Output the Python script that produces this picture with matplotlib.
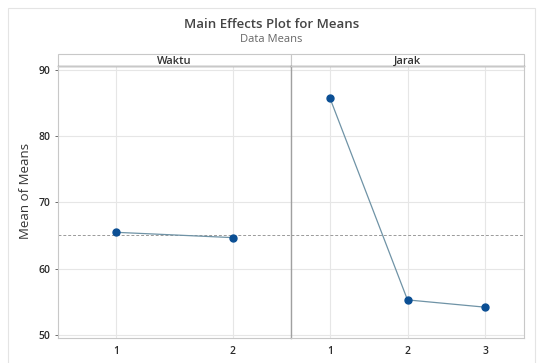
import matplotlib
matplotlib.use("Agg")
import matplotlib.pyplot as plt
from matplotlib.patches import Rectangle

plt.rcParams['font.family'] = ['Open Sans', 'DejaVu Sans']

# main effect means per factor level
factors = ["Waktu", "Jarak"]
waktu_levels = ["1", "2"]
waktu_means = [65.5, 64.7]
jarak_levels = ["1", "2", "3"]
jarak_means = [85.8, 55.3, 54.2]
grand_mean = 65.1
y_ticks = [50, 60, 70, 80, 90]

LINE_C = "#6f93a6"
MARK_C = "#0b4f94"
GRID_C = "#e6e6e6"
FRAME_C = "#c8c8c8"

fig = plt.figure(figsize=(5.43, 3.63), dpi=100)
W, H = 543, 363

# light outer frame
fig.patches.append(Rectangle((8 / W, -0.01), 527 / W, 1 - 8 / H + 0.01,
                             transform=fig.transFigure, fill=False,
                             edgecolor="#e4e4e4", linewidth=0.8))

left, right = 58 / W, 524 / W
bottom, top = 1 - 338 / H, 1 - 66 / H
pw = (right - left) / 2
axes = [fig.add_axes([left, bottom, pw, top - bottom]),
        fig.add_axes([left + pw, bottom, pw, top - bottom])]

panels = [(waktu_levels, waktu_means), (jarak_levels, jarak_means)]
strip_h = 12 / (338 - 66)

for i, (ax, name, (levels, means)) in enumerate(zip(axes, factors, panels)):
    xs = list(range(1, len(levels) + 1))
    ax.set_xlim(0.5, len(levels) + 0.5)
    ax.set_ylim(49.55, 90.6)
    ax.set_xticks(xs)
    ax.set_xticklabels(levels)
    ax.set_yticks(y_ticks)
    ax.grid(True, color=GRID_C, linewidth=0.8)
    ax.set_axisbelow(True)
    ax.axhline(grand_mean, color="#9a9a9a", linestyle=(0, (3, 2)), linewidth=0.7)
    ax.plot(xs, means, color=LINE_C, linewidth=0.9, zorder=3)
    ax.plot(xs, means, "o", color=MARK_C, markersize=5, zorder=4)
    for s in ax.spines.values():
        s.set_color(FRAME_C)
        s.set_linewidth(0.8)
    ax.tick_params(axis="both", labelsize=7.5, colors="#555555",
                   labelcolor="#2a2a2a", length=2, width=0.6)
    for lab in ax.get_xticklabels() + ax.get_yticklabels():
        lab.set_fontweight("semibold")
    ax.tick_params(axis="x", length=0, pad=6)
    # factor strip on top
    ax.add_patch(Rectangle((0, 1), 1, strip_h, transform=ax.transAxes,
                           facecolor="white", edgecolor=FRAME_C,
                           linewidth=0.8, clip_on=False))
    ax.plot([0, 1], [1, 1], transform=ax.transAxes, color="#8a8a8a",
            linewidth=1.0, clip_on=False)
    ax.text(0.5, 1 + strip_h * 0.4, name, transform=ax.transAxes,
            ha="center", va="center", fontsize=8, fontweight="semibold",
            color="#333333")
    if i == 1:
        ax.tick_params(axis="y", left=False, labelleft=False)
        ax.spines["left"].set_color("#a0a0a0")
        ax.spines["left"].set_linewidth(1.0)

axes[0].set_ylabel("Mean of Means", fontsize=9.5, color="#333333")
axes[0].yaxis.set_label_coords(-26 / 233, (338 - 191) / 272)

fig.text(0.5, 1 - 24 / H, "Main Effects Plot for Means", ha="center",
         va="center", fontsize=9.5, fontweight="semibold", color="#444444")
fig.text(0.5, 1 - 39 / H, "Data Means", ha="center", va="center",
         fontsize=8, color="#666666")

fig.savefig("out.png", dpi=100)
